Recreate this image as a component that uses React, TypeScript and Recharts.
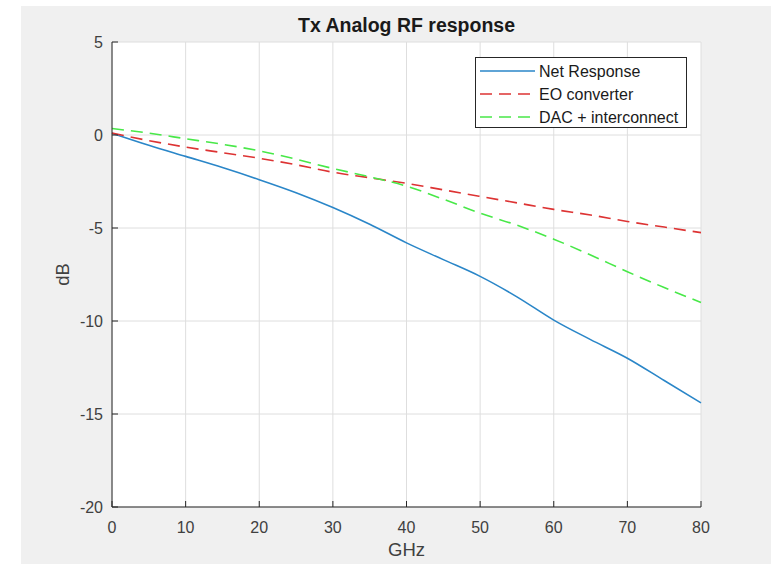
import React from "react";
import { LineChart, Line, XAxis, YAxis, CartesianGrid, Legend } from "recharts";

const freqGHz = [0, 5, 10, 15, 20, 25, 30, 35, 40, 45, 50, 55, 60, 65, 70, 75, 80];
const netResponse = [0.1, -0.55, -1.15, -1.75, -2.4, -3.1, -3.9, -4.8, -5.8, -6.7, -7.6, -8.7, -9.95, -11.0, -12.0, -13.2, -14.4];
const eoConverter = [0.1, -0.3, -0.65, -0.95, -1.25, -1.6, -2.0, -2.3, -2.6, -2.95, -3.3, -3.65, -4.0, -4.3, -4.65, -4.95, -5.25];
const dacInterconnect = [0.35, 0.1, -0.2, -0.5, -0.85, -1.3, -1.8, -2.25, -2.75, -3.45, -4.2, -4.85, -5.6, -6.45, -7.35, -8.2, -9.0];

const xTicks = [0, 10, 20, 30, 40, 50, 60, 70, 80];
const yTicks = [-20, -15, -10, -5, 0, 5];

const BLUE = "#2a86c8";
const RED = "#dd3333";
const GREEN = "#48e848";
const AXIS = "#262626";
const FONT = "'Liberation Sans', Arial, Helvetica, sans-serif";

const legendItems = [
    { name: "Net Response", color: BLUE, dash: undefined as string | undefined },
    { name: "EO converter", color: RED, dash: "12 7" },
    { name: "DAC + interconnect", color: GREEN, dash: "12 7" },
];

const rows = freqGHz.map((f, i) => ({
    f,
    net: netResponse[i],
    eo: eoConverter[i],
    dac: dacInterconnect[i],
}));

// matlab style legend box
const LegendBox = () => (
    <svg width={213} height={72} style={{ display: "block" }}>
        <rect x={0.5} y={0.5} width={211} height={70} fill="#fff" stroke={AXIS} strokeWidth={1} />
        {legendItems.map((it, i) => {
            const y = 14 + i * 23;
            return (
                <g key={it.name}>
                    <line x1={5} x2={60} y1={y} y2={y} stroke={it.color} strokeWidth={1.6} strokeDasharray={it.dash} />
                    <text x={64} y={y} dy="0.35em" fontSize={16} fill="#1a1a1a" fontFamily={FONT}>{it.name}</text>
                </g>
            );
        })}
    </svg>
);

export default function App() {
    return (
        <div style={{ position: "absolute", left: 0, top: 0, width: 771, height: 564, background: "#fff", fontFamily: FONT }}>
            <div style={{ position: "absolute", left: 21, top: 6, right: 0, bottom: 0, background: "#f0f0f0" }} />
            <div style={{ position: "absolute", left: 112, width: 589, top: 14, textAlign: "center", fontSize: 19.5, fontWeight: "bold", lineHeight: "22px", color: "#1a1a1a" }}>
                Tx Analog RF response
            </div>
            <div style={{ position: "absolute", left: 0, top: 0 }}>
                <LineChart width={771} height={564} data={rows} margin={{ top: 42, right: 70, bottom: 0, left: 0 }}>
                    <CartesianGrid stroke="#dedede" fill="#fff" horizontalPoints={undefined} />
                    <XAxis
                        dataKey="f"
                        type="number"
                        domain={[0, 80]}
                        ticks={xTicks}
                        height={57}
                        tickSize={-6}
                        tickMargin={21}
                        tick={{ fill: "#404040", fontSize: 16, fontFamily: FONT }}
                        axisLine={{ stroke: AXIS }}
                        tickLine={{ stroke: AXIS }}
                        label={{ value: "GHz", position: "insideBottom", offset: 8, fill: "#404040", fontSize: 18.5, fontFamily: FONT }}
                    />
                    <XAxis
                        xAxisId="top"
                        orientation="top"
                        dataKey="f"
                        type="number"
                        domain={[0, 80]}
                        ticks={xTicks}
                        height={0}
                        tickSize={-6}
                        tick={false}
                        axisLine={{ stroke: AXIS }}
                        tickLine={{ stroke: AXIS }}
                    />
                    <YAxis
                        type="number"
                        domain={[-20, 5]}
                        ticks={yTicks}
                        width={112}
                        tickSize={-6}
                        tickMargin={15}
                        tick={{ fill: "#404040", fontSize: 16, fontFamily: FONT }}
                        axisLine={{ stroke: AXIS }}
                        tickLine={{ stroke: AXIS }}
                        label={{ value: "dB", angle: -90, position: "center", dx: 6, fill: "#404040", fontSize: 18.5, fontFamily: FONT }}
                    />
                    <YAxis
                        yAxisId="right"
                        orientation="right"
                        type="number"
                        domain={[-20, 5]}
                        ticks={yTicks}
                        width={0}
                        tickSize={-6}
                        tick={false}
                        axisLine={{ stroke: AXIS }}
                        tickLine={{ stroke: AXIS }}
                    />
                    <Legend
                        layout="horizontal"
                        verticalAlign="middle"
                        align="center"
                        wrapperStyle={{ left: 475, top: 57, width: 213, height: 72 }}
                        content={() => <LegendBox />}
                    />
                    <Line type="monotone" dataKey="net" stroke={BLUE} strokeWidth={1.6} dot={false} isAnimationActive={false} />
                    <Line type="monotone" dataKey="eo" stroke={RED} strokeWidth={1.6} strokeDasharray="12 7" dot={false} isAnimationActive={false} />
                    <Line type="monotone" dataKey="dac" stroke={GREEN} strokeWidth={1.6} strokeDasharray="12 7" dot={false} isAnimationActive={false} />
                </LineChart>
            </div>
        </div>
    );
}
